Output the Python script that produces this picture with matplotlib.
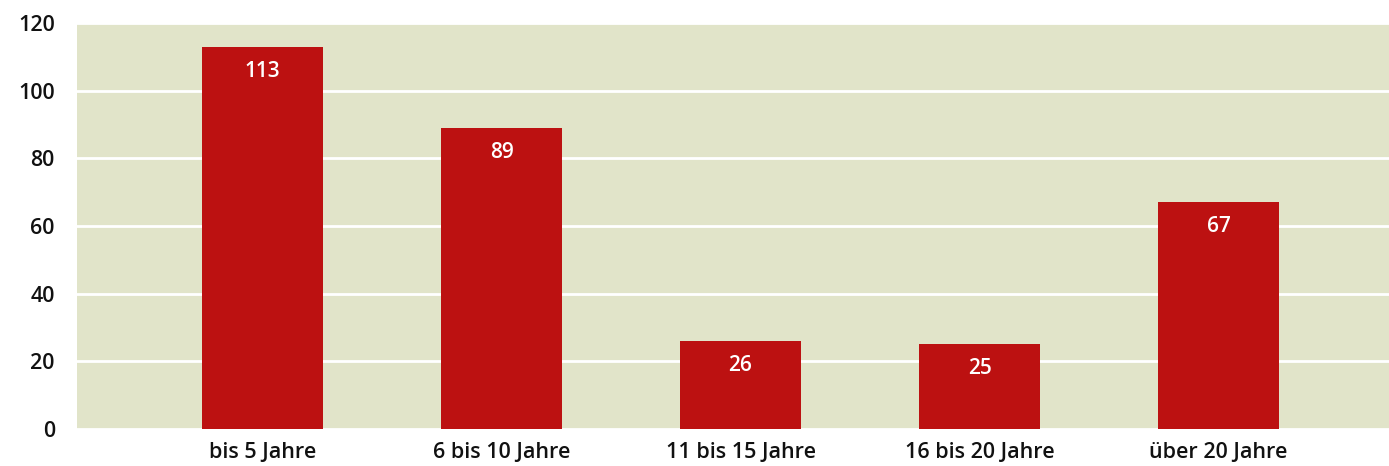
import matplotlib
matplotlib.use('Agg')
import matplotlib.pyplot as plt

categories = ['bis 5 Jahre', '6 bis 10 Jahre', '11 bis 15 Jahre', '16 bis 20 Jahre', 'über 20 Jahre']
values = [113, 89, 26, 25, 67]
yticks = [0, 20, 40, 60, 80, 100, 120]

BG = '#E1E4C9'
RED = '#BC1111'

plt.rcParams['font.family'] = ['Open Sans', 'DejaVu Sans']
plt.rcParams['font.weight'] = 'semibold'

fig = plt.figure(figsize=(13.89, 4.66), dpi=100)
ax = fig.add_axes([77 / 1389, 37 / 466, 1 - 77 / 1389, 406 / 466])
ax.set_facecolor(BG)

xs = range(len(categories))
bars = ax.bar(xs, values, width=0.506, color=RED, zorder=3)
for x, v in zip(xs, values):
    ax.annotate(str(v), (x, v), xytext=(0, -10), textcoords='offset points',
                ha='center', va='top', color='white', fontsize=15, zorder=4)

ax.set_xlim(-0.776, 4.713)
ax.set_ylim(0, 120)
ax.set_yticks(yticks)
ax.set_xticks(list(xs))
ax.set_xticklabels(categories)
ax.yaxis.grid(True, color='white', linewidth=2, zorder=1)
ax.set_axisbelow(True)
for s in ax.spines.values():
    s.set_visible(False)
ax.tick_params(axis='both', length=0, labelsize=15.5, colors='#111111')
ax.tick_params(axis='y', pad=16)
ax.tick_params(axis='x', pad=9)

fig.savefig('out.png', dpi=100)
